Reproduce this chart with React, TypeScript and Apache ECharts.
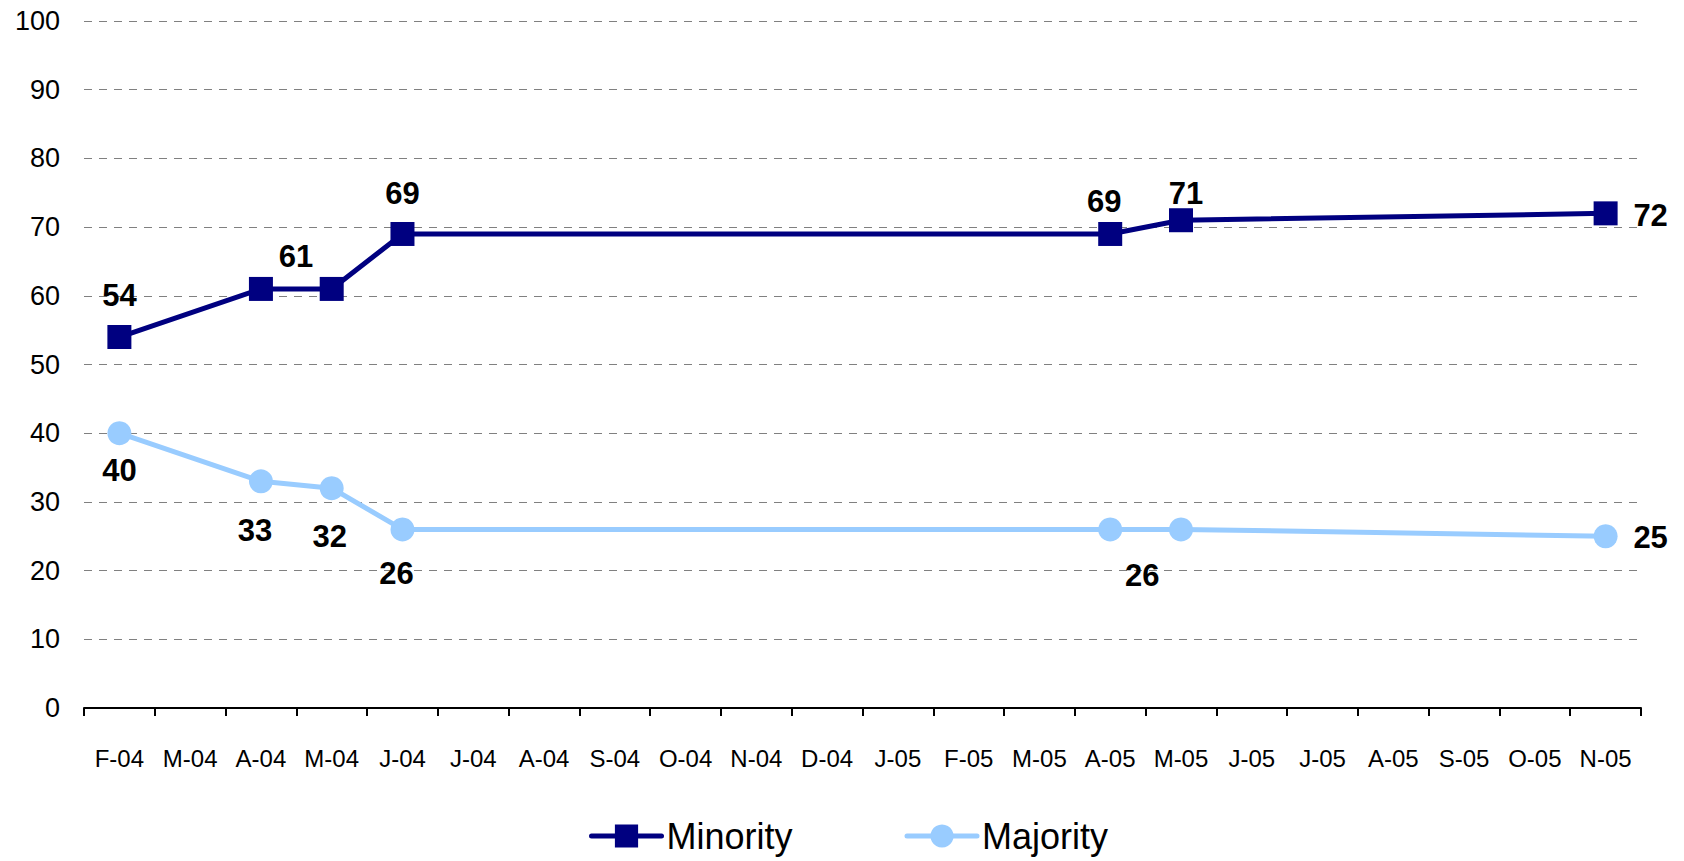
import React, { useEffect, useRef } from "react";
import * as echarts from "echarts";

const categories = [
  "F-04", "M-04", "A-04", "M-04", "J-04", "J-04", "A-04", "S-04", "O-04", "N-04", "D-04",
  "J-05", "F-05", "M-05", "A-05", "M-05", "J-05", "J-05", "A-05", "S-05", "O-05", "N-05",
];

const minority: (number | null)[] = [
  54, null, 61, 61, 69, null, null, null, null, null, null,
  null, null, null, 69, 71, null, null, null, null, null, 72,
];

const majority: (number | null)[] = [
  40, null, 33, 32, 26, null, null, null, null, null, null,
  null, null, null, 26, 26, null, null, null, null, null, 25,
];

const yTicks = { min: 0, max: 100, interval: 10 };

// label offsets (px) from the marker centre; null = no label
const minorityLabelOffsets: ([number, number] | null)[] = [
  [0, -42], null, [35, -32], null, [0, -40], null, null, null, null, null, null,
  null, null, null, [-6, -32], [5, -27], null, null, null, null, null, [45, 2],
];
const majorityLabelOffsets: ([number, number] | null)[] = [
  [0, 37], null, [-6, 49], [-2, 48], [-6, 44], null, null, null, null, null, null,
  null, null, null, [32, 46], null, null, null, null, null, null, [45, 1],
];

const FONT = "'Liberation Sans', Arial, sans-serif";

function buildData(values: (number | null)[], offsets: ([number, number] | null)[]) {
  return values.map((v, i) => {
    const off = offsets[i];
    if (v === null) return null;
    return {
      value: v,
      label: off
        ? { show: true, position: "inside", offset: off }
        : { show: false },
    };
  });
}

export default function App() {
  const ref = useRef<HTMLDivElement>(null);

  useEffect(() => {
    if (!ref.current) return;
    const chart = echarts.init(ref.current, undefined, { renderer: "svg" });
    const labelStyle = {
      color: "#000",
      fontSize: 31,
      fontWeight: "bold",
      fontFamily: FONT,
    };
    chart.setOption({
      animation: false,
      backgroundColor: "#fff",
      textStyle: { fontFamily: FONT },
      grid: { left: 84, right: 43, top: 21, bottom: 153, containLabel: false },
      legend: {
        left: 589,
        top: 818,
        padding: 0,
        itemWidth: 70,
        itemHeight: 29,
        itemGap: 112,
        lineStyle: { width: 5, cap: "round" },
        textStyle: { fontSize: 36, color: "#000", fontFamily: FONT },
        data: ["Minority", "Majority"],
      },
      xAxis: {
        type: "category",
        data: categories,
        boundaryGap: true,
        axisLine: { show: true, lineStyle: { color: "#000", width: 2 } },
        axisTick: { show: true, length: 8, lineStyle: { color: "#000", width: 2 } },
        axisLabel: {
          interval: 0,
          fontSize: 24,
          color: "#000",
          margin: 38,
          fontFamily: FONT,
        },
        splitLine: { show: false },
      },
      yAxis: {
        type: "value",
        min: yTicks.min,
        max: yTicks.max,
        interval: yTicks.interval,
        axisLine: { show: false },
        axisTick: { show: false },
        axisLabel: { fontSize: 27, color: "#000", margin: 24, fontFamily: FONT },
        splitLine: {
          show: true,
          lineStyle: { color: "#808080", width: 1, type: [8, 7] },
        },
      },
      series: [
        {
          name: "Minority",
          type: "line",
          data: buildData(minority, minorityLabelOffsets),
          connectNulls: true,
          symbol: "rect",
          symbolSize: 24,
          lineStyle: { color: "#000080", width: 5 },
          itemStyle: { color: "#000080" },
          label: labelStyle,
          z: 3,
        },
        {
          name: "Majority",
          type: "line",
          data: buildData(majority, majorityLabelOffsets),
          connectNulls: true,
          symbol: "circle",
          symbolSize: 24,
          lineStyle: { color: "#99CCFF", width: 5 },
          itemStyle: { color: "#99CCFF" },
          label: labelStyle,
          z: 2,
        },
      ],
    });
    return () => chart.dispose();
  }, []);

  return (
    <div
      ref={ref}
      style={{ position: "fixed", left: 0, top: 0, width: 1684, height: 861 }}
    />
  );
}
